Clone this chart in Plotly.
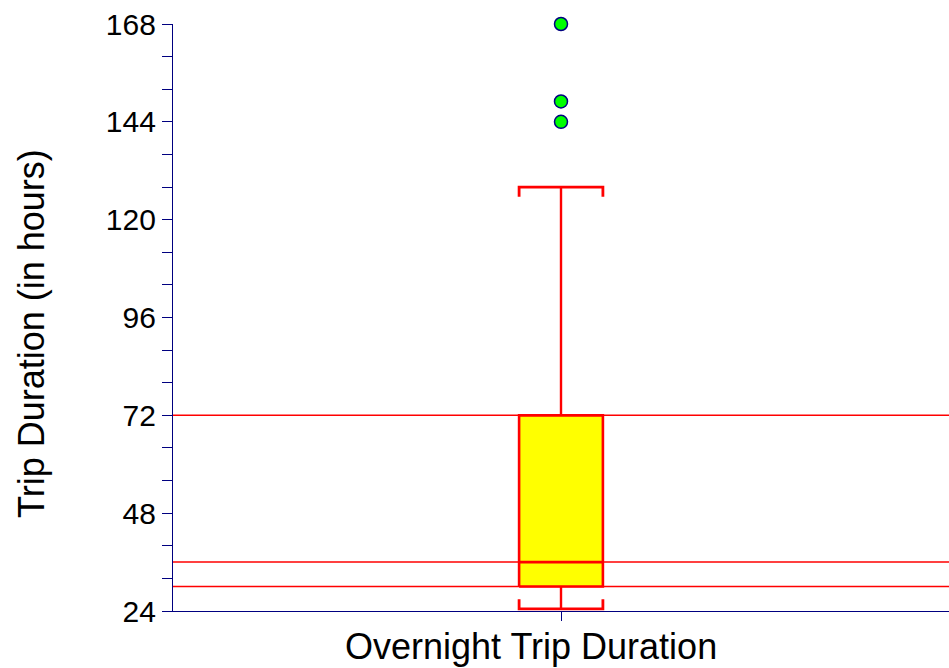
import plotly.graph_objects as go

# Summary statistics for overnight trip duration (hours)
category = "Overnight Trip Duration"
y_title = "Trip Duration (in hours)"
q1, median, q3 = 30, 36, 72
lower_whisker, upper_whisker = 24.5, 128
outliers = [144, 149, 168]

y_ticks = [24, 48, 72, 96, 120, 144, 168]

xc = 0.0          # box position on the category axis
hw = 0.108        # half width of the box and whisker caps
cap_tick = 2.4    # length of the small cap end ticks (hours)

RED = "#FF0000"
NAVY = "#000080"

fig = go.Figure()

# Reference lines at the quartiles and median across the plot
for v in (q3, median, q1):
    fig.add_trace(go.Scatter(x=[-1, 1], y=[v, v], mode="lines",
                             line=dict(color=RED, width=1.5),
                             hoverinfo="skip", showlegend=False))

# Box body
fig.add_trace(go.Scatter(
    x=[xc - hw, xc + hw, xc + hw, xc - hw, xc - hw],
    y=[q1, q1, q3, q3, q1],
    mode="lines", fill="toself", fillcolor="#FFFF00",
    line=dict(color=RED, width=2.6), showlegend=False, hoverinfo="skip"))

# Median line
fig.add_trace(go.Scatter(x=[xc - hw, xc + hw], y=[median, median], mode="lines",
                         line=dict(color=RED, width=2.6),
                         showlegend=False, hoverinfo="skip"))

# Whiskers
fig.add_trace(go.Scatter(x=[xc, xc, None, xc, xc],
                         y=[q3, upper_whisker, None, q1, lower_whisker],
                         mode="lines", line=dict(color=RED, width=2.4),
                         showlegend=False, hoverinfo="skip"))

# Whisker caps with end ticks
fig.add_trace(go.Scatter(
    x=[xc - hw, xc - hw, xc + hw, xc + hw, None,
       xc - hw, xc - hw, xc + hw, xc + hw],
    y=[upper_whisker - cap_tick, upper_whisker, upper_whisker, upper_whisker - cap_tick, None,
       lower_whisker + cap_tick, lower_whisker, lower_whisker, lower_whisker + cap_tick],
    mode="lines", line=dict(color=RED, width=2.8),
    showlegend=False, hoverinfo="skip"))

# Outliers
fig.add_trace(go.Scatter(x=[xc] * len(outliers), y=outliers, mode="markers",
                         marker=dict(size=13, color="#00FF00",
                                     line=dict(color=NAVY, width=1.5)),
                         cliponaxis=False, showlegend=False))

font_family = "Liberation Sans, Arial, sans-serif"

fig.update_layout(
    width=949, height=668,
    margin=dict(l=173, r=0, t=24, b=57),
    paper_bgcolor="white", plot_bgcolor="white",
    font=dict(family=font_family, color="black"),
    xaxis=dict(range=[-1, 1], showgrid=False, zeroline=False,
               showline=True, linecolor=NAVY, linewidth=1.2,
               tickvals=[xc], ticktext=[""], ticks="outside",
               ticklen=9, tickcolor=NAVY, tickwidth=1),
    yaxis=dict(range=[24, 168], showgrid=False, zeroline=False,
               showline=True, linecolor=NAVY, linewidth=1.2,
               tickvals=y_ticks, ticks="outside", ticklen=10,
               tickcolor=NAVY, tickwidth=1.2,
               tickfont=dict(size=30),
               minor=dict(dtick=8, tick0=24, ticks="outside", ticklen=10,
                          tickcolor=NAVY, tickwidth=1.2)),
    annotations=[
        dict(text=category, xref="paper", yref="paper", x=0.461, y=-0.0613,
             xanchor="center", yanchor="middle", showarrow=False,
             font=dict(size=36)),
        dict(text=y_title, xref="paper", yref="paper", x=-0.1817, y=0.4719,
             xanchor="center", yanchor="middle", showarrow=False,
             textangle=-90, font=dict(size=36)),
    ],
)

fig.write_html("out.html")
